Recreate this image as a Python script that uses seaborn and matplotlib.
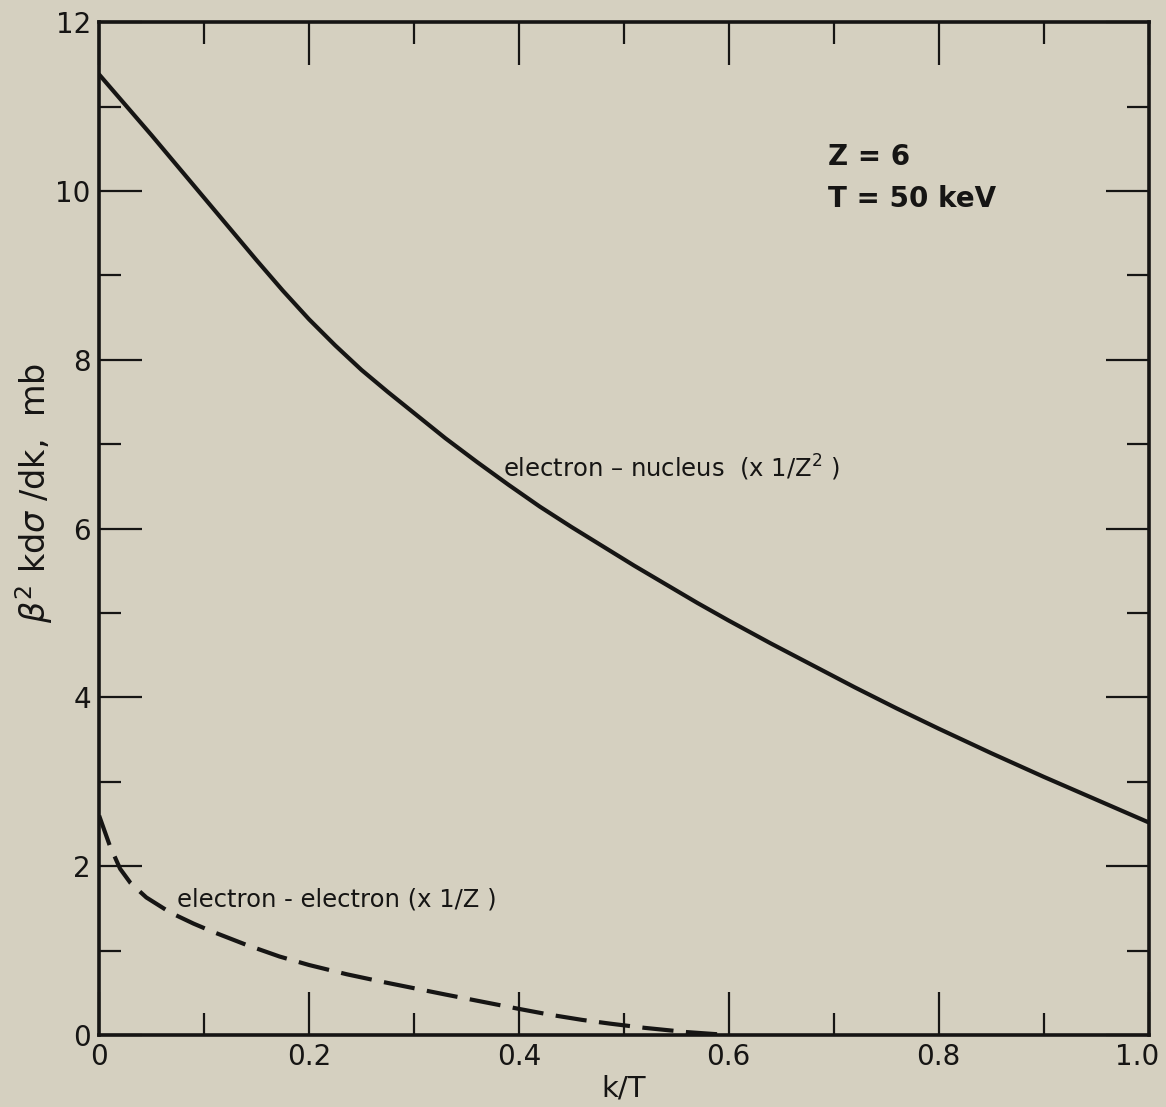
import pandas as pd
import matplotlib
matplotlib.use("Agg")
import matplotlib.pyplot as plt
import seaborn as sns
from matplotlib.ticker import MultipleLocator
from matplotlib.transforms import ScaledTranslation

# electron-nucleus (x 1/Z^2), krzywa ciagla
kt_nucleus = [0.0, 0.025, 0.05, 0.075, 0.10, 0.125, 0.15, 0.175, 0.20, 0.225,
              0.25, 0.275, 0.30, 0.33, 0.36, 0.39, 0.42, 0.45, 0.48, 0.51,
              0.54, 0.57, 0.60, 0.64, 0.68, 0.72, 0.76, 0.80, 0.85, 0.90,
              0.95, 1.0]
sigma_nucleus = [11.38, 11.02, 10.66, 10.29, 9.92, 9.55, 9.18, 8.82, 8.48, 8.17,
                 7.88, 7.62, 7.37, 7.07, 6.79, 6.52, 6.26, 6.02, 5.79, 5.56,
                 5.34, 5.12, 4.91, 4.64, 4.38, 4.12, 3.87, 3.63, 3.34, 3.06,
                 2.79, 2.52]

# electron-electron (x 1/Z), krzywa przerywana
kt_electron = [0.0, 0.01, 0.02, 0.03, 0.045, 0.068, 0.09, 0.109, 0.14, 0.172,
               0.20, 0.236, 0.27, 0.30, 0.33, 0.363, 0.40, 0.43, 0.46, 0.487,
               0.52, 0.56, 0.60]
sigma_electron = [2.60, 2.25, 1.97, 1.80, 1.63, 1.45, 1.32, 1.22, 1.07, 0.93,
                  0.83, 0.72, 0.63, 0.555, 0.48, 0.40, 0.31, 0.24, 0.18, 0.135,
                  0.085, 0.035, 0.0]

x_ticks = [0.0, 0.2, 0.4, 0.6, 0.8, 1.0]
x_tick_labels = ["0", "0.2", "0.4", "0.6", "0.8", "1.0"]
y_ticks = [0, 2, 4, 6, 8, 10, 12]
y_tick_labels = ["0", "2", "4", "6", "8", "10", "12"]

paper = "#d5d0c0"
ink = "#161514"

sns.set_style("ticks")
plt.rcParams["font.family"] = ["DejaVu Sans"]
plt.rcParams["mathtext.fontset"] = "dejavusans"

fig = plt.figure(figsize=(11.66, 11.07), dpi=100, facecolor=paper)
ax = fig.add_axes([0.085, 0.065, 0.9, 0.915])
ax.set_facecolor(paper)

dane_n = pd.DataFrame({"k/T": kt_nucleus, "sigma": sigma_nucleus})
dane_e = pd.DataFrame({"k/T": kt_electron, "sigma": sigma_electron})

sns.lineplot(data=dane_n, x="k/T", y="sigma", ax=ax, color=ink, lw=3.0,
             estimator=None, sort=False)
sns.lineplot(data=dane_e, x="k/T", y="sigma", ax=ax, color=ink, lw=3.0,
             estimator=None, sort=False, dashes=False)
ax.lines[-1].set_dashes((7.5, 3))

ax.set_xlim(0, 1.0)
ax.set_ylim(0, 12)
ax.set_xticks(x_ticks)
ax.set_xticklabels(x_tick_labels)
ax.set_yticks(y_ticks)
ax.set_yticklabels(y_tick_labels)
ax.xaxis.set_minor_locator(MultipleLocator(0.1))
ax.yaxis.set_minor_locator(MultipleLocator(1))

ax.tick_params(which="both", direction="in", top=True, right=True,
               color=ink, width=1.6)
ax.tick_params(which="major", length=31, labelsize=20, pad=6, labelcolor=ink)
ax.tick_params(which="minor", length=16)
for s in ax.spines.values():
    s.set_linewidth(2.6)
    s.set_color(ink)

# ostatnia etykieta "1.0" przesunieta w lewo, jak w oryginale
ostatni = ax.xaxis.get_major_ticks()[-1].label1
ostatni.set_transform(ostatni.get_transform()
                      + ScaledTranslation(-8 / 72, 0, fig.dpi_scale_trans))

ax.set_xlabel("k/T", fontsize=21, color=ink, labelpad=2)
ax.set_ylabel(r"$\beta^2$ kd$\sigma$ /dk,  mb", fontsize=24, color=ink)
ax.yaxis.set_label_coords(-0.042, 0.535)

ax.text(0.695, 10.31, "Z = 6", fontsize=20, color=ink, fontweight="bold")
ax.text(0.695, 9.81, "T = 50 keV", fontsize=20, color=ink, fontweight="bold")
ax.text(0.385, 6.72, r"electron – nucleus  (x 1/Z$^2$ )", fontsize=17.5,
        color=ink, va="center")
ax.text(0.074, 1.6, "electron - electron (x 1/Z )", fontsize=17.5,
        color=ink, va="center")

fig.savefig("out.png", dpi=100, facecolor=paper)
